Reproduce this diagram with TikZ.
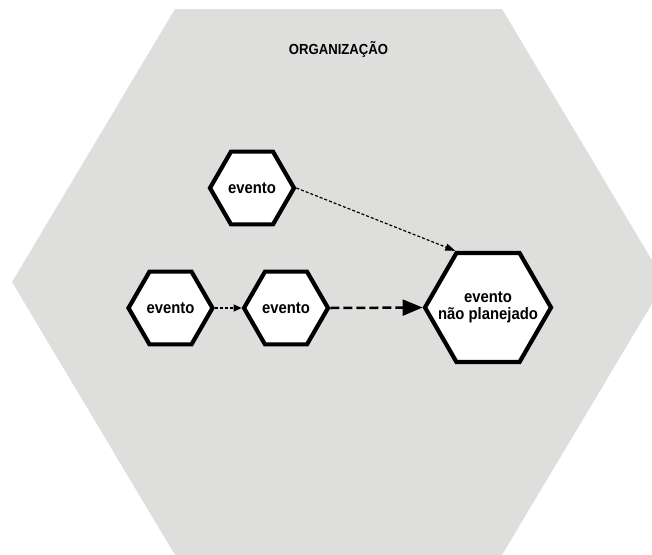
\documentclass[tikz,border=0pt]{standalone}
\usepackage{fontspec}
\setmainfont[FakeStretch=0.9]{Liberation Sans}
\usetikzlibrary{shapes.geometric,arrows.meta}
\definecolor{orgfill}{RGB}{222,223,221}
\tikzset{
  hexshape/.style={regular polygon, regular polygon sides=6, draw=black, fill=white,
    line width=4.2pt, inner sep=0pt},
  hexlabel/.style={align=center, inner sep=0pt,
    font=\fontsize{16.5}{17}\selectfont\bfseries},
  smallhex/.style={hexshape, hexlabel, minimum size=84pt},
  bighex/.style={hexshape, minimum size=126pt},
  thinlink/.style={line width=1.2pt, dash pattern=on 3pt off 2pt},
  thicklink/.style={line width=2.5pt, dash pattern=on 9pt off 4pt},
}
\begin{document}
\begin{tikzpicture}[x=1pt,y=-1pt]
  \useasboundingbox (0,0) rectangle (652,554);
  % organisation boundary
  \begin{scope}
    \clip (0,0) rectangle (652,554);
    \fill[orgfill] (12,282) -- (175,9) -- (502,9) -- (665,282) -- (502,555) -- (175,555) -- cycle;
  \end{scope}
  \node[font=\fontsize{14.6}{15}\selectfont\bfseries] (org) at (338.5,50) {ORGANIZAÇÃO};
  % events
  \node[smallhex] (top) at (252,188) {evento};
  \node[smallhex] (ea) at (170.5,308) {evento};
  \node[smallhex] (eb) at (286,308) {evento};
  \node[bighex] (np) at (488,307.5) {};
  \node[hexlabel] (nplabel) at (np.center) {evento\\não planejado};
  % influences
  \draw[thinlink, -{Triangle[length=10pt,width=7pt]}] (top.east) -- (np.120);
  \draw[thinlink, -{Triangle[length=8pt,width=7pt]}] (ea.east) -- (eb.west);
  \draw[thicklink, -{Triangle[length=20pt,width=16pt]}] (eb.east) -- (np.west);
\end{tikzpicture}
\end{document}
